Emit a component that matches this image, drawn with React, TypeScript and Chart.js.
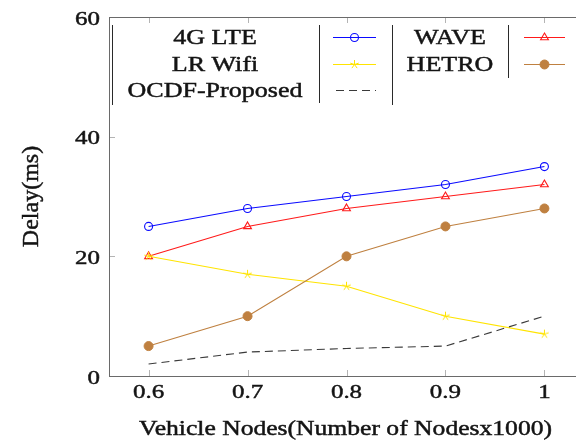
import React, { useEffect, useRef } from 'react';
import { Chart, registerables } from 'chart.js';

Chart.register(...registerables);

// ---- data ----
const nodes = [0.6, 0.7, 0.8, 0.9, 1];
const xTickValues = [0.6, 0.7, 0.8, 0.9, 1];
const xTickLabels = ['0.6', '0.7', '0.8', '0.9', '1'];
const yTickValues = [0, 20, 40, 60];
const yTickLabels = ['0', '20', '40', '60'];

const lte4g = [25, 28, 30, 32, 35];
const wave = [20, 25, 28, 30, 32];
const lrWifi = [20, 17, 15, 10, 7];
const hetro = [5, 10, 20, 25, 28];
const ocdf = [2, 4, 4.6, 5, 10];

const seriesLabels = ['4G LTE', 'WAVE', 'LR Wifi', 'HETRO', 'OCDF-Proposed'];
const xTitle = 'Vehicle Nodes(Number of Nodesx1000)';
const yTitle = 'Delay(ms)';

const BLUE = '#0a0aff';
const RED = '#ff1a1a';
const YELLOW = '#ffe400';
const BROWN = '#bf8040';
const DASH = '#3a3a3a';

const SERIF = '"Liberation Serif", "DejaVu Serif", serif';
const TEXT = '#141414';

function makeStar(color: string, r: number): HTMLCanvasElement {
  const c = document.createElement('canvas');
  const s = 11;
  c.width = s;
  c.height = s;
  const g = c.getContext('2d')!;
  g.strokeStyle = color;
  g.lineWidth = 1;
  g.beginPath();
  for (let k = 0; k < 5; k++) {
    const a = -Math.PI / 2 + (k * 2 * Math.PI) / 5;
    g.moveTo(s / 2, s / 2);
    g.lineTo(s / 2 + r * Math.cos(a), s / 2 + r * Math.sin(a));
  }
  g.stroke();
  return c;
}

function drawText(
  ctx: CanvasRenderingContext2D,
  text: string,
  x: number,
  y: number,
  align: CanvasTextAlign,
  size: number,
  sx: number
) {
  ctx.save();
  ctx.translate(x, y);
  ctx.scale(sx, 1);
  ctx.font = `${size}px ${SERIF}`;
  ctx.fillStyle = TEXT;
  ctx.strokeStyle = TEXT;
  ctx.lineWidth = 0.45;
  ctx.textAlign = align;
  ctx.textBaseline = 'alphabetic';
  ctx.fillText(text, 0, 0);
  ctx.strokeText(text, 0, 0);
  ctx.restore();
}

function drawMarker(ctx: CanvasRenderingContext2D, ds: any, x: number, y: number) {
  const style = ds.pointStyle;
  const r = ds.pointRadius;
  if (!r) return;
  if (style instanceof HTMLCanvasElement) {
    ctx.drawImage(style, x - style.width / 2, y - style.height / 2);
    return;
  }
  ctx.save();
  ctx.lineWidth = ds.pointBorderWidth;
  ctx.strokeStyle = ds.pointBorderColor;
  ctx.fillStyle = ds.pointBackgroundColor;
  ctx.beginPath();
  if (style === 'triangle') {
    let rad = 0;
    ctx.moveTo(x + Math.sin(rad) * r, y - Math.cos(rad) * r);
    rad += (2 * Math.PI) / 3;
    ctx.lineTo(x + Math.sin(rad) * r, y - Math.cos(rad) * r);
    rad += (2 * Math.PI) / 3;
    ctx.lineTo(x + Math.sin(rad) * r, y - Math.cos(rad) * r);
    ctx.closePath();
  } else {
    ctx.arc(x, y, r, 0, Math.PI * 2);
  }
  ctx.fill();
  ctx.stroke();
  ctx.restore();
}

const framePlugin = {
  id: 'pgfFrame',
  beforeDatasetsDraw(chart: any) {
    const { ctx, chartArea: a, scales } = chart;
    const xs = scales.x;
    const ys = scales.y;
    ctx.save();
    // inward ticks
    ctx.strokeStyle = '#b4b4b4';
    ctx.lineWidth = 1;
    ctx.beginPath();
    xs.ticks.forEach((t: any) => {
      const px = Math.round(xs.getPixelForValue(t.value)) + 0.5;
      ctx.moveTo(px, a.bottom);
      ctx.lineTo(px, a.bottom - 6);
      ctx.moveTo(px, a.top);
      ctx.lineTo(px, a.top + 6);
    });
    ys.ticks.forEach((t: any) => {
      const py = Math.round(ys.getPixelForValue(t.value)) + 0.5;
      ctx.moveTo(a.left, py);
      ctx.lineTo(a.left + 6, py);
      ctx.moveTo(a.right, py);
      ctx.lineTo(a.right - 6, py);
    });
    ctx.stroke();
    // frame
    ctx.strokeStyle = '#6a6a6a';
    ctx.strokeRect(a.left + 0.5, a.top + 0.5, a.right - a.left, a.bottom - a.top);
    // tick labels
    xs.ticks.forEach((t: any, i: number) => {
      drawText(ctx, xTickLabels[i], xs.getPixelForValue(t.value), a.bottom + 22, 'center', 19.5, 1.28);
    });
    ys.ticks.forEach((t: any, i: number) => {
      drawText(ctx, yTickLabels[i], a.left - 9, ys.getPixelForValue(t.value) + 7.5, 'right', 19.5, 1.28);
    });
    // axis titles
    drawText(ctx, xTitle, (a.left + a.right) / 2 - 1, 435, 'center', 20, 1.28);
    ctx.save();
    ctx.translate(38, (a.top + a.bottom) / 2);
    ctx.rotate(-Math.PI / 2);
    ctx.font = `24px ${SERIF}`;
    ctx.fillStyle = TEXT;
    ctx.strokeStyle = TEXT;
    ctx.lineWidth = 0.45;
    ctx.textAlign = 'center';
    ctx.textBaseline = 'alphabetic';
    ctx.fillText(yTitle, 0, 0);
    ctx.strokeText(yTitle, 0, 0);
    ctx.restore();
    ctx.restore();
  },
  afterDatasetsDraw(chart: any) {
    const { ctx, chartArea: a } = chart;
    const L = a.left;
    const T = a.top;
    ctx.save();
    // separators
    ctx.strokeStyle = '#2a2a2a';
    ctx.lineWidth = 1;
    ctx.beginPath();
    const seps = [
      [L + 3, T + 8, T + 88],
      [L + 210, T + 8, T + 86],
      [L + 283, T + 8, T + 88],
      [L + 399, T + 8, T + 61],
    ];
    seps.forEach(([x, y0, y1]) => {
      ctx.moveTo(x + 0.5, y0);
      ctx.lineTo(x + 0.5, y1);
    });
    ctx.stroke();
    const textCx = [L + 106, L + 341];
    const lineX0 = [L + 224, L + 415];
    const lineX1 = [L + 267, L + 456];
    chart.data.datasets.forEach((ds: any, i: number) => {
      const c = i % 2;
      const row = Math.floor(i / 2);
      const ym = T + 20 + row * 26.5;
      drawText(ctx, ds.label, textCx[c], T + 27 + row * 26.5, 'center', 21, 1.24);
      ctx.save();
      ctx.strokeStyle = ds.borderColor;
      ctx.lineWidth = ds.borderWidth;
      ctx.setLineDash(ds.borderDash || []);
      ctx.lineDashOffset = ds.borderDash ? -3 : 0;
      ctx.beginPath();
      ctx.moveTo(lineX0[c], Math.round(ym) + 0.5);
      ctx.lineTo(lineX1[c], Math.round(ym) + 0.5);
      ctx.stroke();
      ctx.restore();
      drawMarker(ctx, ds, (lineX0[c] + lineX1[c]) / 2, Math.round(ym) + 0.5);
    });
    ctx.restore();
  },
};

function pts(vals: number[]) {
  return nodes.map((x, i) => ({ x, y: vals[i] }));
}

export default function App() {
  const ref = useRef<HTMLCanvasElement | null>(null);

  useEffect(() => {
    if (!ref.current) return;
    const star = makeStar(YELLOW, 4.5);
    const chart = new Chart(ref.current, {
      type: 'line',
      data: {
        datasets: [
          {
            label: seriesLabels[0],
            data: pts(lte4g),
            borderColor: BLUE,
            borderWidth: 1.1,
            pointStyle: 'circle',
            pointRadius: 4,
            pointBorderWidth: 1.1,
            pointBorderColor: BLUE,
            pointBackgroundColor: 'rgba(0,0,0,0)',
            order: 5,
          },
          {
            label: seriesLabels[1],
            data: pts(wave),
            borderColor: RED,
            borderWidth: 1.1,
            pointStyle: 'triangle',
            pointRadius: 4.5,
            pointBorderWidth: 1.1,
            pointBorderColor: RED,
            pointBackgroundColor: 'rgba(0,0,0,0)',
            order: 4,
          },
          {
            label: seriesLabels[2],
            data: pts(lrWifi),
            borderColor: YELLOW,
            borderWidth: 1.1,
            pointStyle: star,
            pointRadius: 4.5,
            pointBorderWidth: 1,
            pointBorderColor: YELLOW,
            pointBackgroundColor: YELLOW,
            order: 3,
          },
          {
            label: seriesLabels[3],
            data: pts(hetro),
            borderColor: BROWN,
            borderWidth: 1.1,
            pointStyle: 'circle',
            pointRadius: 4.5,
            pointBorderWidth: 1,
            pointBorderColor: BROWN,
            pointBackgroundColor: BROWN,
            order: 2,
          },
          {
            label: seriesLabels[4],
            data: pts(ocdf),
            borderColor: DASH,
            borderWidth: 1.1,
            borderDash: [8, 5],
            pointRadius: 0,
            order: 1,
          },
        ] as any,
      },
      options: {
        animation: false,
        responsive: false,
        devicePixelRatio: 1,
        layout: { padding: { left: 0, top: 17, right: 16, bottom: 0 } },
        plugins: {
          legend: { display: false },
          tooltip: { enabled: false },
        },
        elements: { line: { tension: 0 } },
        scales: {
          x: {
            type: 'linear',
            min: 0.56,
            max: 1.04,
            grid: { display: false },
            border: { display: false },
            ticks: { display: false },
            afterBuildTicks: (s: any) => {
              s.ticks = xTickValues.map((v) => ({ value: v }));
            },
            afterFit: (s: any) => {
              s.height = 65;
            },
          },
          y: {
            type: 'linear',
            min: 0,
            max: 60,
            grid: { display: false },
            border: { display: false },
            ticks: { display: false },
            afterBuildTicks: (s: any) => {
              s.ticks = yTickValues.map((v) => ({ value: v }));
            },
            afterFit: (s: any) => {
              s.width = 109;
            },
          },
        },
      } as any,
      plugins: [framePlugin],
    });
    return () => chart.destroy();
  }, []);

  return (
    <div
      style={{
        position: 'fixed',
        left: 0,
        top: 0,
        width: 576,
        height: 441,
        overflow: 'hidden',
        background: '#ffffff',
      }}
    >
      <canvas ref={ref} width={600} height={441} style={{ display: 'block' }} />
    </div>
  );
}
